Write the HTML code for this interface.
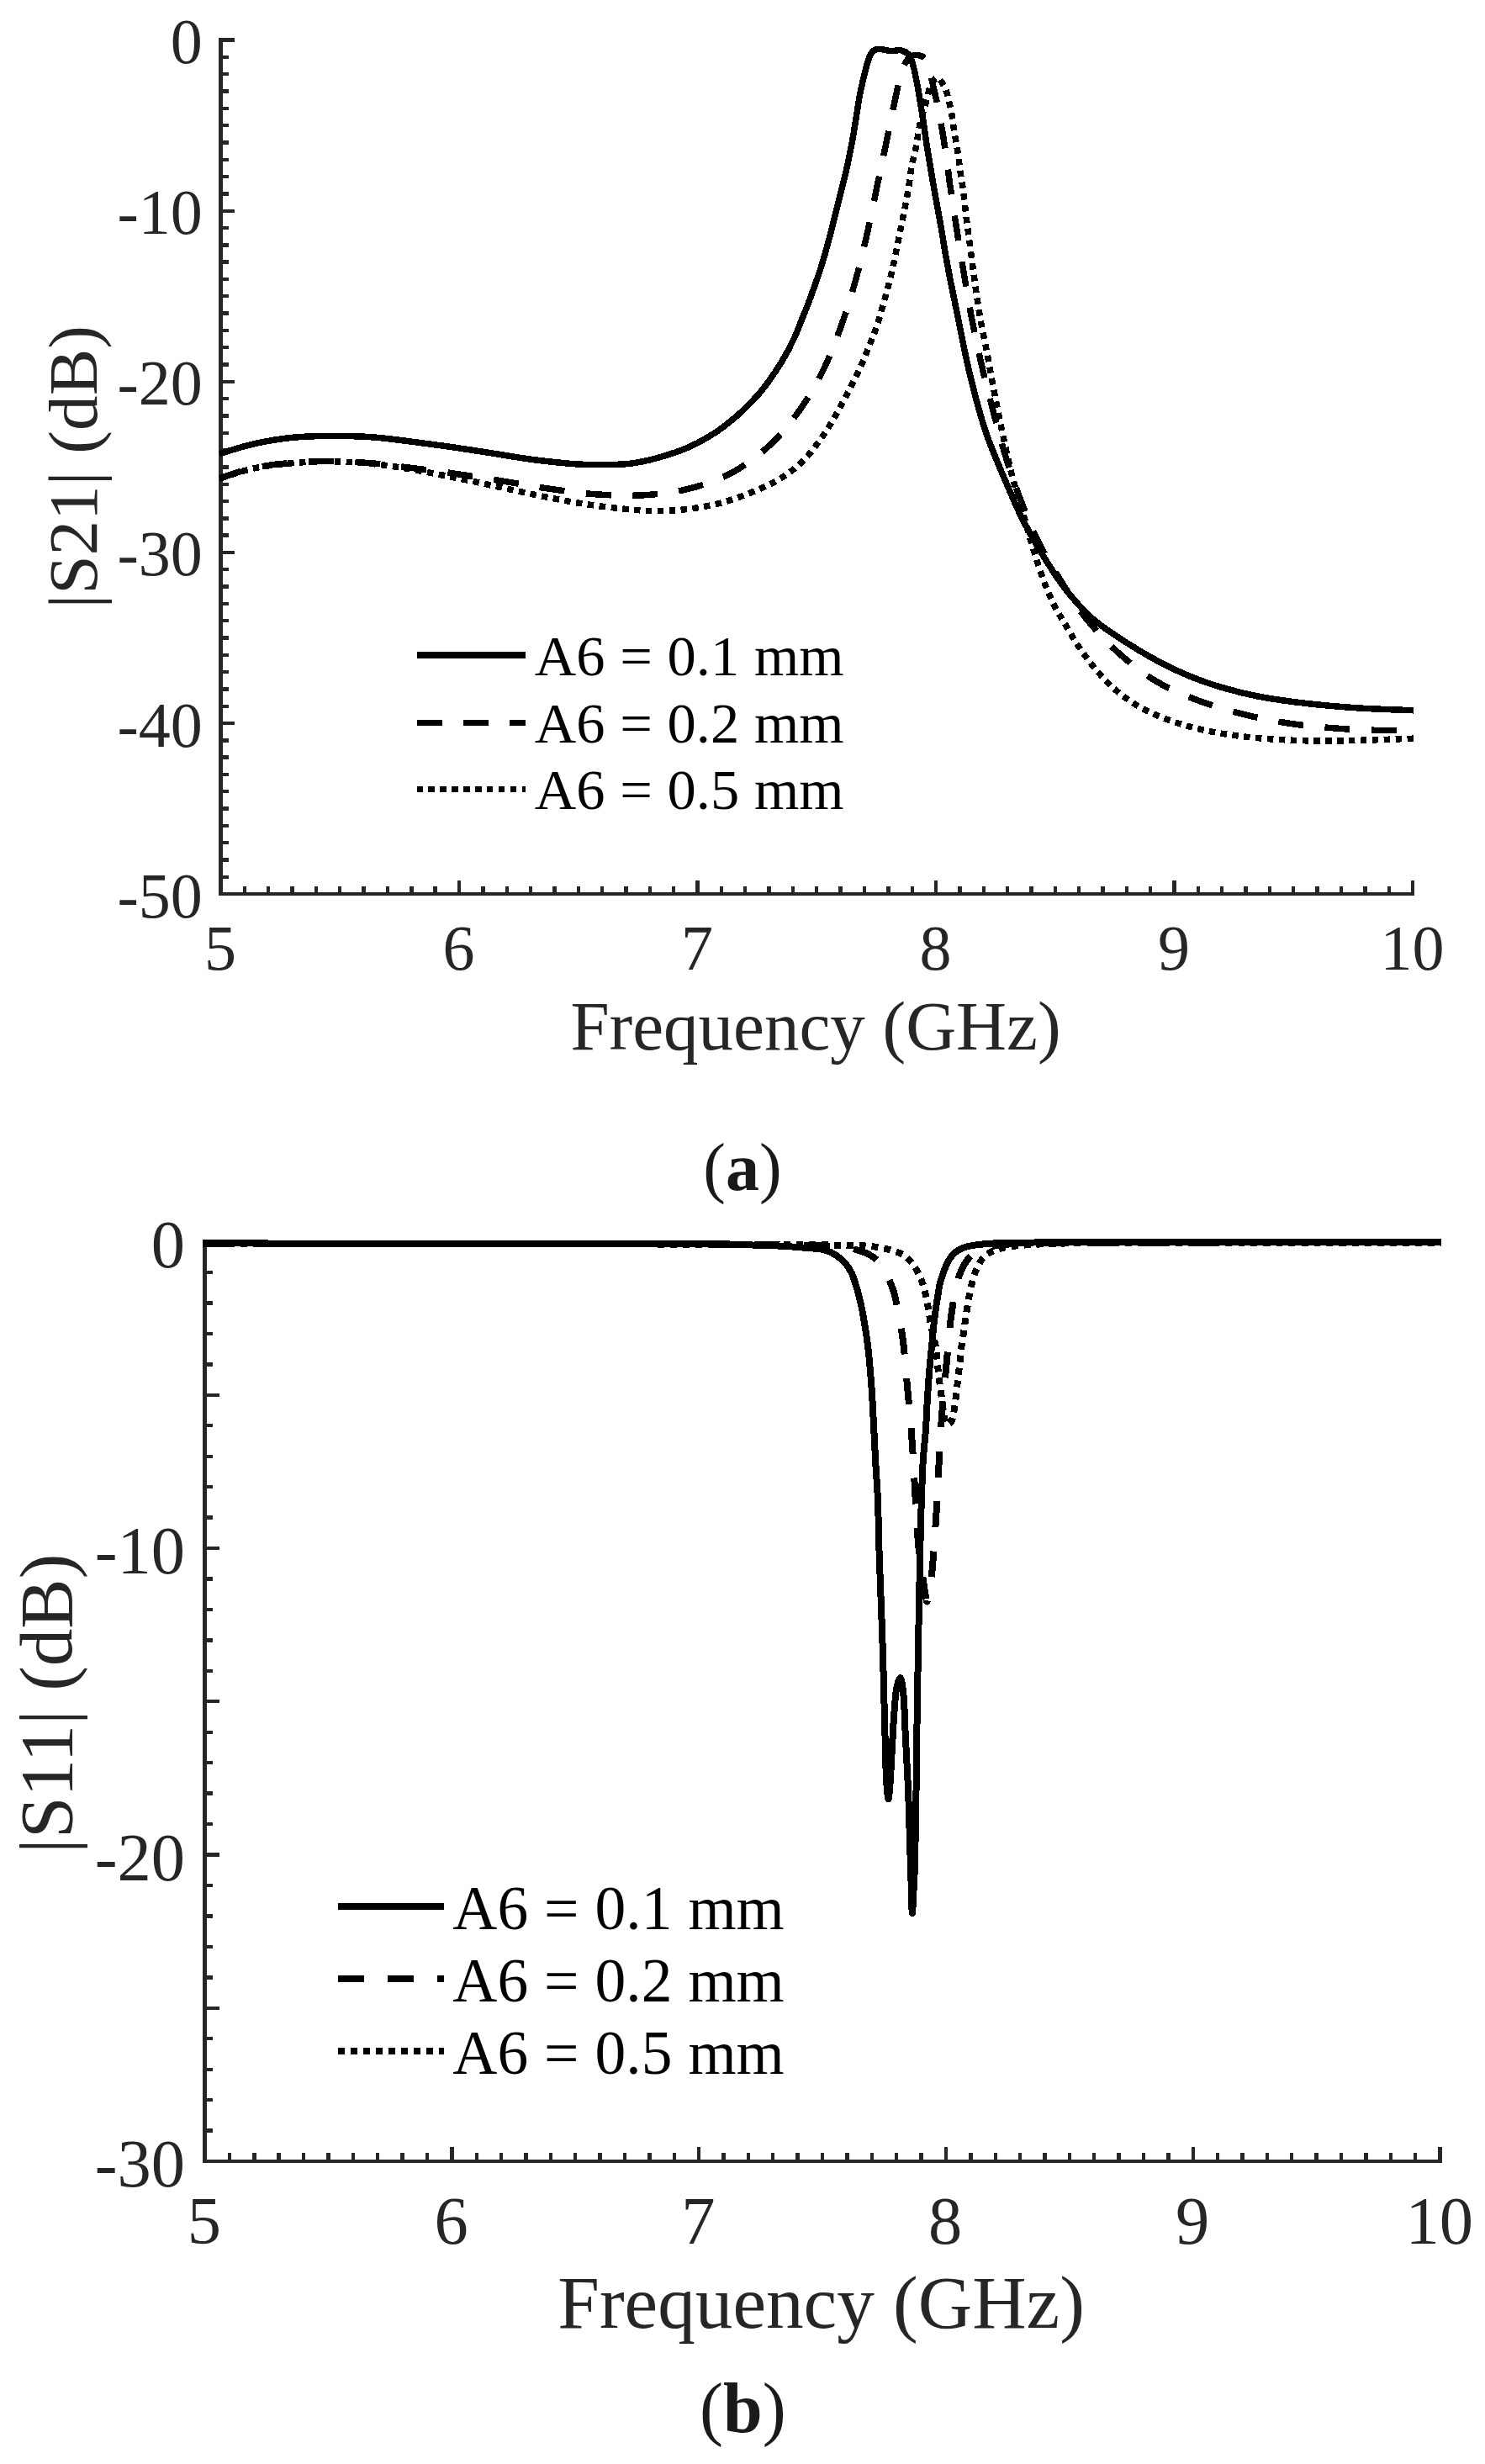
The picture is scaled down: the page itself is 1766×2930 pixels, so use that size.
<!DOCTYPE html>
<html lang="en"><head><meta charset="utf-8"><title>S21 and S11 versus frequency</title>
<style>
html,body{margin:0;padding:0;background:#fff}
svg{display:block}
text{font-family:"Liberation Serif","Times New Roman",serif;fill:#262626}
.ta{font-size:76px}.la{font-size:83px}.ga{font-size:68.5px;fill:#000}
.tb{font-size:80.5px}.lb{font-size:88px}.lby{font-size:89px}.gb{font-size:73.5px;fill:#000}
.cap{font-size:80px;fill:#1a1a1a}
.ax{stroke:#262626;fill:none;shape-rendering:crispEdges}
.cv{stroke:#000;fill:none;stroke-linejoin:round;shape-rendering:crispEdges}
</style></head><body>
<svg width="1766" height="2930" viewBox="0 0 1766 2930">
<rect width="1766" height="2930" fill="#fff"/>
<g id="plot-a">
<path class="ax" stroke-width="5" d="M262.5 45.2V1065"/>
<path class="ax" stroke-width="4" d="M260 1063H1682.2"/>
<path class="ax" stroke-width="4.4" d="M262.5 47.6h16.4M262.5 67.9h9.4M262.5 88.2h9.4M262.5 108.5h9.4M262.5 128.8h9.4M262.5 149.1h9.4M262.5 169.5h9.4M262.5 189.8h9.4M262.5 210.1h9.4M262.5 230.4h9.4M262.5 250.7h16.4M262.5 271.0h9.4M262.5 291.3h9.4M262.5 311.6h9.4M262.5 331.9h9.4M262.5 352.2h9.4M262.5 372.6h9.4M262.5 392.9h9.4M262.5 413.2h9.4M262.5 433.5h9.4M262.5 453.8h16.4M262.5 474.1h9.4M262.5 494.4h9.4M262.5 514.7h9.4M262.5 535.0h9.4M262.5 555.3h9.4M262.5 575.7h9.4M262.5 596.0h9.4M262.5 616.3h9.4M262.5 636.6h9.4M262.5 656.9h16.4M262.5 677.2h9.4M262.5 697.5h9.4M262.5 717.8h9.4M262.5 738.1h9.4M262.5 758.4h9.4M262.5 778.8h9.4M262.5 799.1h9.4M262.5 819.4h9.4M262.5 839.7h9.4M262.5 860.0h16.4M262.5 880.3h9.4M262.5 900.6h9.4M262.5 920.9h9.4M262.5 941.2h9.4M262.5 961.5h9.4M262.5 981.9h9.4M262.5 1002.2h9.4M262.5 1022.5h9.4M262.5 1042.8h9.4M262.5 1063.1h16.4"/>
<path class="ax" stroke-width="4.4" d="M262.5 1063.0v-16.2M290.9 1063.0v-9.2M319.2 1063.0v-9.2M347.6 1063.0v-9.2M375.9 1063.0v-9.2M404.2 1063.0v-9.2M432.6 1063.0v-9.2M460.9 1063.0v-9.2M489.3 1063.0v-9.2M517.6 1063.0v-9.2M546.0 1063.0v-16.2M574.4 1063.0v-9.2M602.7 1063.0v-9.2M631.0 1063.0v-9.2M659.4 1063.0v-9.2M687.8 1063.0v-9.2M716.1 1063.0v-9.2M744.5 1063.0v-9.2M772.8 1063.0v-9.2M801.1 1063.0v-9.2M829.5 1063.0v-16.2M857.9 1063.0v-9.2M886.2 1063.0v-9.2M914.5 1063.0v-9.2M942.9 1063.0v-9.2M971.2 1063.0v-9.2M999.6 1063.0v-9.2M1028.0 1063.0v-9.2M1056.3 1063.0v-9.2M1084.7 1063.0v-9.2M1113.0 1063.0v-16.2M1141.3 1063.0v-9.2M1169.7 1063.0v-9.2M1198.0 1063.0v-9.2M1226.4 1063.0v-9.2M1254.8 1063.0v-9.2M1283.1 1063.0v-9.2M1311.5 1063.0v-9.2M1339.8 1063.0v-9.2M1368.2 1063.0v-9.2M1396.5 1063.0v-16.2M1424.8 1063.0v-9.2M1453.2 1063.0v-9.2M1481.5 1063.0v-9.2M1509.9 1063.0v-9.2M1538.2 1063.0v-9.2M1566.6 1063.0v-9.2M1595.0 1063.0v-9.2M1623.3 1063.0v-9.2M1651.7 1063.0v-9.2M1680.0 1063.0v-16.2"/>
<text class="ta" x="240.8" y="75.1" text-anchor="end">0</text>
<text class="ta" x="240.8" y="278.2" text-anchor="end">-10</text>
<text class="ta" x="240.8" y="481.3" text-anchor="end">-20</text>
<text class="ta" x="240.8" y="684.4" text-anchor="end">-30</text>
<text class="ta" x="240.8" y="887.5" text-anchor="end">-40</text>
<text class="ta" x="240.8" y="1090.6" text-anchor="end">-50</text>
<text class="ta" x="262.0" y="1153.3" text-anchor="middle">5</text>
<text class="ta" x="545.5" y="1153.3" text-anchor="middle">6</text>
<text class="ta" x="829.0" y="1153.3" text-anchor="middle">7</text>
<text class="ta" x="1112.5" y="1153.3" text-anchor="middle">8</text>
<text class="ta" x="1396.0" y="1153.3" text-anchor="middle">9</text>
<text class="ta" x="1679.5" y="1153.3" text-anchor="middle">10</text>
<text class="la" x="970" y="1247.5" text-anchor="middle">Frequency (GHz)</text>
<text class="la" style="font-size:83.3px" transform="translate(115.3 555.3) rotate(-90)" text-anchor="middle">|S21| (dB)</text>
<path class="cv" stroke-width="7.5" d="M261.0 539.6C270.8 536.7 280.8 533.3 290.4 530.8C299.5 528.4 307.8 526.4 317.3 524.7C327.9 522.8 338.8 521.1 351.0 520.0C365.3 518.8 382.3 518.4 398.0 518.4C413.7 518.4 430.2 518.9 445.3 520.0C459.3 521.1 471.5 522.9 485.7 524.7C501.6 526.7 519.4 529.1 536.2 531.5C553.0 533.9 569.9 536.6 586.7 539.2C603.5 541.8 620.3 544.9 637.2 547.0C654.0 549.1 672.7 551.1 687.7 552.0C699.6 552.7 709.4 552.7 720.0 552.6C730.2 552.5 740.0 552.5 750.0 551.2C760.3 549.9 769.9 547.8 780.8 544.8C793.5 541.3 808.0 536.9 821.2 530.8C835.0 524.4 848.6 516.4 861.6 506.6C875.6 496.0 890.4 482.1 902.0 468.9C912.6 456.8 921.4 443.4 929.0 431.2C935.6 420.5 941.2 409.4 945.5 400.0C948.9 392.7 950.9 386.5 953.5 380.0C956.0 373.7 958.1 369.0 960.9 361.6C965.0 350.8 970.9 334.7 975.3 321.2C979.6 307.8 983.3 294.3 986.9 280.8C990.5 267.4 993.6 253.9 997.0 240.4C1000.3 226.9 1004.1 213.0 1007.0 200.0C1009.7 187.9 1012.1 175.7 1014.1 164.7C1015.8 155.1 1017.0 146.7 1018.5 137.7C1020.0 128.7 1021.1 119.7 1022.9 110.8C1024.7 101.8 1027.2 91.5 1029.2 83.9C1030.7 78.2 1031.7 73.2 1033.5 69.0C1034.9 65.7 1036.2 62.3 1038.5 60.5C1040.5 58.9 1043.0 58.5 1045.8 58.3C1049.6 58.1 1054.9 60.5 1059.3 60.7C1063.4 60.9 1067.7 59.0 1071.4 59.8C1074.9 60.6 1078.4 62.3 1080.8 65.0C1083.6 68.2 1084.7 74.0 1086.2 79.0C1087.9 84.6 1088.8 90.0 1090.2 97.3C1092.3 108.1 1094.9 124.2 1097.0 137.7C1099.1 151.2 1100.7 163.8 1103.0 178.1C1105.6 194.3 1109.1 214.4 1111.8 230.0C1114.1 242.8 1116.0 252.4 1118.2 265.0C1120.8 279.7 1123.3 296.4 1126.3 312.8C1129.5 330.2 1133.0 346.9 1137.0 366.7C1141.9 390.9 1147.7 421.7 1153.9 447.3C1159.7 470.9 1165.6 493.7 1172.7 514.7C1179.2 533.9 1186.9 551.2 1194.3 568.6C1201.3 585.2 1208.0 601.5 1215.8 617.0C1223.3 631.9 1231.4 646.0 1240.0 660.0C1248.5 673.9 1257.1 687.8 1267.0 700.5C1276.8 713.0 1287.2 725.0 1299.3 735.6C1311.8 746.6 1326.6 755.8 1341.0 765.0C1355.6 774.3 1371.0 783.3 1386.4 791.0C1401.3 798.5 1415.4 804.8 1431.8 810.6C1450.3 817.1 1472.1 823.0 1492.4 827.3C1512.5 831.6 1532.8 834.0 1553.0 836.4C1573.2 838.8 1592.8 840.4 1613.6 841.8C1635.5 843.3 1658.5 843.8 1681.0 844.8"/>
<path class="cv" stroke-width="7.5" stroke-dasharray="30 25.4" stroke-dashoffset="2.5" d="M261.0 568.8C270.8 565.7 280.8 562.0 290.4 559.4C299.5 557.0 307.8 555.2 317.3 553.7C327.9 552.0 339.8 550.9 351.0 550.0C362.2 549.1 373.5 548.4 384.7 548.3C395.9 548.2 407.2 548.7 418.4 549.3C429.6 549.9 440.8 550.6 452.0 551.7C463.2 552.8 473.3 554.4 485.7 556.0C500.8 557.9 518.0 559.9 536.0 562.5C556.9 565.5 582.6 569.7 603.5 573.0C621.6 575.9 636.6 578.9 654.0 581.3C672.5 583.9 692.3 586.8 711.3 588.0C730.0 589.2 748.9 589.9 767.3 588.7C785.5 587.5 803.7 585.3 821.2 580.7C838.7 576.1 856.5 569.7 872.4 561.0C888.4 552.2 903.5 540.6 916.8 528.1C930.0 515.7 941.4 501.3 951.9 486.4C962.5 471.3 971.7 455.1 980.1 437.9C988.9 419.8 996.6 398.3 1003.0 380.0C1008.6 364.0 1012.8 350.3 1017.2 334.4C1022.0 317.3 1026.4 298.9 1030.6 280.5C1035.0 261.2 1039.2 239.9 1043.1 221.2C1046.6 204.4 1049.8 189.9 1053.2 173.4C1056.9 155.8 1060.6 135.5 1064.4 118.9C1067.6 104.8 1069.8 89.0 1074.1 79.8C1076.8 74.0 1080.0 69.1 1083.5 67.0C1086.0 65.5 1088.9 65.4 1091.6 65.7C1094.3 66.0 1097.6 66.9 1099.7 69.0C1102.2 71.6 1103.1 77.1 1104.4 81.2C1105.7 85.2 1106.6 89.1 1107.7 93.3C1108.9 98.0 1110.0 103.2 1111.1 108.1C1112.2 113.0 1113.4 117.5 1114.5 122.9C1115.8 129.4 1117.2 137.5 1118.5 144.5C1119.7 151.0 1120.8 156.5 1121.9 163.3C1123.2 171.5 1124.6 181.2 1125.9 190.3C1127.2 199.5 1128.0 207.3 1129.5 218.0C1131.6 233.0 1134.8 253.7 1137.6 271.6C1140.4 289.7 1143.4 308.2 1146.5 326.3C1149.5 344.3 1152.4 362.1 1155.9 380.0C1159.4 398.0 1163.2 416.0 1167.3 433.9C1171.5 451.9 1176.1 469.8 1180.8 487.7C1185.5 505.7 1190.2 523.9 1195.6 541.6C1200.9 559.0 1206.6 575.8 1213.1 592.8C1219.7 610.0 1226.3 627.2 1234.7 644.0C1243.3 661.3 1254.3 679.1 1264.3 695.0C1273.5 709.7 1281.6 723.0 1292.4 736.4C1303.9 750.7 1317.7 765.4 1331.8 777.9C1345.6 790.1 1360.1 801.4 1375.8 810.6C1391.5 819.8 1408.7 826.8 1425.8 833.3C1443.0 839.8 1461.0 844.9 1478.8 849.4C1496.4 853.8 1513.8 857.2 1531.8 860.0C1550.2 862.8 1569.3 864.6 1587.9 866.0C1606.2 867.4 1625.8 868.1 1642.4 868.5C1656.4 868.9 1668.1 868.7 1681.0 868.8"/>
<path class="cv" stroke-width="7.5" stroke-dasharray="7.5 6.4" d="M261.0 569.2C270.8 566.1 280.8 562.4 290.4 559.8C299.5 557.4 307.8 555.6 317.3 554.1C327.9 552.4 339.8 551.3 351.0 550.4C362.2 549.5 373.5 548.8 384.7 548.7C395.9 548.6 407.2 549.1 418.4 549.7C429.6 550.3 440.8 551.2 452.0 552.5C463.2 553.8 473.4 555.4 485.7 557.5C500.8 560.0 519.3 563.7 536.0 567.0C552.7 570.3 569.3 573.9 586.0 577.5C602.9 581.1 620.1 585.1 637.0 588.5C653.7 591.9 670.0 595.3 687.0 598.0C704.5 600.8 723.8 603.4 740.4 605.0C754.8 606.4 767.3 607.6 780.8 607.6C794.3 607.6 807.8 606.8 821.2 605.0C834.7 603.2 848.3 600.6 861.6 596.8C875.2 592.9 890.0 587.2 902.0 582.0C912.0 577.7 920.3 574.2 929.0 568.6C938.3 562.7 947.4 555.7 955.9 547.0C965.5 537.2 974.7 524.2 982.8 512.0C990.8 499.9 997.6 487.0 1004.4 474.3C1011.1 461.8 1017.8 448.5 1023.2 436.6C1027.9 426.2 1031.8 416.1 1035.4 407.0C1038.4 399.4 1040.9 393.3 1043.4 385.9C1046.1 377.8 1048.4 369.0 1050.8 360.3C1053.3 351.4 1055.9 342.3 1058.2 333.3C1060.4 324.3 1062.4 315.4 1064.3 306.4C1066.2 297.3 1067.9 287.9 1069.7 278.8C1071.5 269.8 1073.3 261.0 1075.1 251.9C1076.9 242.6 1079.0 232.9 1080.5 223.6C1082.0 214.6 1082.8 204.3 1084.2 197.0C1085.2 191.7 1086.5 188.0 1087.5 183.5C1088.5 179.0 1089.4 174.5 1090.2 170.0C1091.0 165.5 1091.5 161.1 1092.3 156.6C1093.1 152.1 1093.7 148.2 1095.0 143.0C1096.8 135.8 1100.3 124.9 1102.4 117.5C1104.0 111.9 1104.2 107.0 1106.4 102.7C1108.4 98.8 1111.7 92.6 1114.5 92.6C1117.5 92.6 1121.6 100.3 1123.9 104.7C1126.1 108.9 1126.8 113.6 1128.0 118.2C1129.2 122.9 1130.4 127.7 1131.3 132.4C1132.2 136.9 1132.6 141.3 1133.3 145.8C1134.0 150.5 1134.6 155.2 1135.4 160.0C1136.2 164.9 1137.2 170.0 1138.0 174.8C1138.7 179.2 1139.4 183.3 1140.0 187.6C1140.6 191.9 1140.8 196.1 1141.4 200.4C1142.0 204.7 1142.7 208.9 1143.4 213.2C1144.1 217.6 1144.8 221.2 1145.5 226.6C1146.6 235.0 1147.8 247.6 1149.2 259.0C1150.8 271.7 1152.7 285.9 1154.5 299.4C1156.3 312.9 1158.0 326.4 1159.9 339.8C1161.8 353.2 1163.7 366.6 1166.0 380.0C1168.4 393.5 1171.5 407.2 1174.0 420.4C1176.4 433.1 1178.2 444.3 1180.8 458.0C1183.9 474.4 1187.8 494.0 1191.6 512.0C1195.4 530.0 1199.2 548.2 1203.7 565.9C1208.2 583.2 1214.0 601.3 1218.5 617.0C1222.4 630.5 1225.3 642.0 1229.3 654.7C1233.4 668.0 1238.0 682.7 1242.8 695.0C1247.0 705.8 1252.0 716.7 1256.2 724.8C1259.3 730.6 1261.7 733.9 1265.0 739.4C1269.4 746.7 1274.6 756.3 1280.3 765.0C1286.6 774.5 1293.9 784.9 1301.5 794.0C1309.1 803.1 1317.1 812.1 1325.8 819.7C1334.3 827.1 1343.0 833.5 1353.0 839.4C1364.0 845.8 1376.6 851.3 1389.4 856.0C1402.8 861.0 1416.9 864.9 1431.8 868.2C1448.0 871.8 1465.8 874.4 1483.3 876.4C1501.2 878.5 1520.5 879.5 1537.9 880.3C1553.7 881.0 1568.2 881.0 1583.3 881.0C1598.5 881.0 1613.1 880.4 1628.8 880.0C1645.6 879.5 1663.6 878.8 1681.0 878.2"/>
<path class="cv" stroke-width="7.5" d="M495.5 779.2H624.5"/>
<text class="ga" x="635.8" word-spacing="0.6" y="803.0">A6 = 0.1 mm</text>
<path class="cv" stroke-width="7.5" stroke-dasharray="30 25.4" d="M495.5 859.3H624.5"/>
<text class="ga" x="635.8" word-spacing="0.6" y="882.7">A6 = 0.2 mm</text>
<path class="cv" stroke-width="7.5" stroke-dasharray="7.5 6.4" d="M495.5 938.7H624.5"/>
<text class="ga" x="635.8" word-spacing="0.6" y="962.0">A6 = 0.5 mm</text>
<text class="cap" x="883" y="1414.5" text-anchor="middle">(<tspan font-weight="bold">a</tspan>)</text>
</g>
<g id="plot-b">
<path class="ax" stroke-width="5" d="M243.5 1474.2V2571.5"/>
<path class="ax" stroke-width="4" d="M241 2570H1714.9"/>
<path class="ax" stroke-width="4.4" d="M243.5 1476.5h17.4M243.5 1513.0h9.5M243.5 1549.4h9.5M243.5 1585.8h9.5M243.5 1622.3h9.5M243.5 1658.8h17.4M243.5 1695.2h9.5M243.5 1731.7h9.5M243.5 1768.1h9.5M243.5 1804.5h9.5M243.5 1841.0h17.4M243.5 1877.5h9.5M243.5 1913.9h9.5M243.5 1950.3h9.5M243.5 1986.8h9.5M243.5 2023.2h17.4M243.5 2059.7h9.5M243.5 2096.2h9.5M243.5 2132.6h9.5M243.5 2169.1h9.5M243.5 2205.5h17.4M243.5 2241.9h9.5M243.5 2278.4h9.5M243.5 2314.8h9.5M243.5 2351.3h9.5M243.5 2387.8h17.4M243.5 2424.2h9.5M243.5 2460.7h9.5M243.5 2497.1h9.5M243.5 2533.6h9.5M243.5 2570.0h17.4"/>
<path class="ax" stroke-width="4.4" d="M243.5 2570.0v-17.0M272.9 2570.0v-9.9M302.3 2570.0v-9.9M331.6 2570.0v-9.9M361.0 2570.0v-9.9M390.4 2570.0v-9.9M419.8 2570.0v-9.9M449.2 2570.0v-9.9M478.5 2570.0v-9.9M507.9 2570.0v-9.9M537.3 2570.0v-17.0M566.7 2570.0v-9.9M596.1 2570.0v-9.9M625.4 2570.0v-9.9M654.8 2570.0v-9.9M684.2 2570.0v-9.9M713.6 2570.0v-9.9M743.0 2570.0v-9.9M772.3 2570.0v-9.9M801.7 2570.0v-9.9M831.1 2570.0v-17.0M860.5 2570.0v-9.9M889.9 2570.0v-9.9M919.2 2570.0v-9.9M948.6 2570.0v-9.9M978.0 2570.0v-9.9M1007.4 2570.0v-9.9M1036.8 2570.0v-9.9M1066.1 2570.0v-9.9M1095.5 2570.0v-9.9M1124.9 2570.0v-17.0M1154.3 2570.0v-9.9M1183.7 2570.0v-9.9M1213.0 2570.0v-9.9M1242.4 2570.0v-9.9M1271.8 2570.0v-9.9M1301.2 2570.0v-9.9M1330.6 2570.0v-9.9M1359.9 2570.0v-9.9M1389.3 2570.0v-9.9M1418.7 2570.0v-17.0M1448.1 2570.0v-9.9M1477.5 2570.0v-9.9M1506.8 2570.0v-9.9M1536.2 2570.0v-9.9M1565.6 2570.0v-9.9M1595.0 2570.0v-9.9M1624.4 2570.0v-9.9M1653.7 2570.0v-9.9M1683.1 2570.0v-9.9M1712.5 2570.0v-17.0"/>
<text class="tb" x="220" y="1506.8" text-anchor="end">0</text>
<text class="tb" x="220" y="1871.3" text-anchor="end">-10</text>
<text class="tb" x="220" y="2235.8" text-anchor="end">-20</text>
<text class="tb" x="220" y="2600.3" text-anchor="end">-30</text>
<text class="tb" x="242.8" y="2667.6" text-anchor="middle">5</text>
<text class="tb" x="536.6" y="2667.6" text-anchor="middle">6</text>
<text class="tb" x="830.4" y="2667.6" text-anchor="middle">7</text>
<text class="tb" x="1124.2" y="2667.6" text-anchor="middle">8</text>
<text class="tb" x="1418.0" y="2667.6" text-anchor="middle">9</text>
<text class="tb" x="1711.8" y="2667.6" text-anchor="middle">10</text>
<text class="lb" style="font-size:89.2px" x="976.6" y="2768.2" text-anchor="middle">Frequency (GHz)</text>
<text class="lb lby" transform="translate(85 2025.8) rotate(-90)" text-anchor="middle">|S11| (dB)</text>
<path class="cv" stroke-width="8" stroke-dasharray="8 7" d="M241.5 1479.1C361.0 1479.2 485.8 1479.2 600.0 1479.3C704.5 1479.4 831.9 1479.5 900.0 1479.8C935.2 1480.0 956.4 1480.0 980.0 1480.4C998.8 1480.7 1018.2 1480.7 1030.5 1481.6C1037.6 1482.1 1041.9 1482.7 1047.3 1483.7C1052.5 1484.7 1057.7 1485.7 1062.5 1487.4C1067.2 1489.0 1072.1 1490.6 1076.0 1493.4C1079.9 1496.1 1083.1 1500.0 1086.0 1503.9C1089.0 1507.9 1091.5 1512.7 1093.6 1517.3C1095.7 1521.7 1097.3 1526.1 1098.7 1530.8C1100.1 1535.7 1101.0 1540.9 1102.0 1546.0C1103.0 1551.0 1104.0 1556.0 1104.9 1561.1C1105.7 1566.1 1106.2 1571.5 1107.1 1576.3C1107.9 1580.7 1109.0 1584.8 1110.0 1589.0C1111.0 1593.2 1112.2 1597.0 1113.0 1601.5C1113.9 1606.7 1114.2 1612.9 1114.7 1618.4C1115.2 1623.6 1115.5 1628.5 1116.0 1633.5C1116.6 1638.6 1117.3 1643.4 1118.0 1648.7C1118.8 1654.6 1119.7 1661.0 1120.6 1667.2C1121.4 1673.4 1121.8 1680.8 1123.1 1685.7C1124.0 1689.1 1125.0 1693.6 1126.5 1694.1C1127.6 1694.5 1129.3 1693.2 1130.3 1692.0C1131.7 1690.4 1132.4 1687.7 1133.2 1684.8C1134.3 1680.7 1135.0 1674.7 1135.7 1669.7C1136.4 1664.9 1136.8 1660.2 1137.4 1655.4C1138.0 1650.6 1138.5 1645.8 1139.1 1641.0C1139.7 1636.1 1140.2 1631.0 1140.8 1626.0C1141.4 1621.0 1141.9 1615.9 1142.5 1610.8C1143.0 1605.7 1143.4 1600.6 1144.1 1595.6C1144.8 1590.5 1146.0 1585.5 1146.7 1580.5C1147.4 1575.7 1147.7 1571.0 1148.4 1566.2C1149.1 1561.2 1150.1 1556.0 1150.9 1551.0C1151.7 1546.2 1152.4 1541.5 1153.4 1536.7C1154.4 1531.9 1155.4 1527.1 1156.8 1522.4C1158.2 1517.6 1159.7 1512.5 1161.8 1508.0C1163.9 1503.6 1166.2 1498.9 1169.4 1495.5C1172.4 1492.3 1176.0 1489.9 1180.3 1487.9C1185.5 1485.5 1191.4 1484.1 1198.9 1482.8C1209.8 1480.8 1221.8 1480.2 1240.0 1479.3C1275.9 1477.6 1337.8 1478.2 1400.0 1477.9C1487.2 1477.5 1609.3 1477.8 1714.0 1477.7"/>
<path class="cv" stroke-width="8" stroke-dasharray="31 28.4" stroke-dashoffset="-1.5" d="M241.5 1478.9C361.0 1479.0 485.8 1479.1 600.0 1479.2C704.5 1479.3 831.9 1478.9 900.0 1479.7C935.2 1480.1 960.9 1480.5 980.0 1481.5C990.7 1482.1 997.9 1482.6 1005.0 1483.6C1010.3 1484.3 1014.3 1485.0 1018.7 1486.2C1022.8 1487.3 1026.8 1488.7 1030.5 1490.4C1034.1 1492.1 1037.5 1493.7 1040.6 1496.3C1044.0 1499.2 1047.3 1503.3 1049.9 1507.2C1052.6 1511.2 1054.5 1515.5 1056.5 1520.0C1058.7 1524.8 1060.7 1529.2 1062.5 1535.0C1064.8 1542.6 1066.7 1552.6 1068.5 1562.0C1070.5 1572.0 1072.2 1581.3 1073.8 1593.4C1076.0 1609.9 1077.6 1633.7 1079.3 1652.0C1080.8 1668.1 1082.3 1682.6 1083.5 1697.5C1084.6 1711.9 1085.5 1726.0 1086.3 1740.0C1087.1 1753.5 1087.8 1767.1 1088.5 1780.0C1089.2 1792.1 1089.7 1803.8 1090.5 1815.0C1091.2 1825.4 1091.9 1835.2 1093.0 1845.0C1094.1 1854.6 1095.7 1863.8 1097.1 1873.2C1098.5 1882.8 1100.4 1897.6 1101.5 1902.0C1101.8 1903.4 1102.1 1904.6 1102.4 1904.6C1102.8 1904.6 1103.0 1901.6 1103.5 1899.0C1104.5 1893.5 1106.8 1881.4 1107.9 1873.0C1108.9 1865.1 1109.3 1859.2 1110.0 1850.0C1111.1 1836.3 1112.4 1816.7 1113.5 1799.0C1114.7 1779.8 1115.5 1759.4 1116.7 1739.0C1117.9 1717.8 1119.1 1694.7 1120.7 1674.3C1122.1 1655.8 1123.9 1639.7 1125.6 1621.7C1127.4 1602.5 1129.0 1580.3 1131.5 1562.5C1133.6 1547.7 1135.8 1532.7 1139.0 1522.0C1141.2 1514.6 1143.5 1509.2 1146.7 1503.9C1149.6 1499.0 1153.0 1494.3 1157.0 1491.0C1160.8 1487.9 1165.1 1486.2 1170.0 1484.5C1175.8 1482.5 1182.1 1481.5 1190.0 1480.5C1201.0 1479.1 1212.0 1478.8 1230.0 1478.3C1267.0 1477.2 1334.7 1477.7 1400.0 1477.6C1488.7 1477.4 1609.3 1477.5 1714.0 1477.5"/>
<path class="cv" stroke-width="8" d="M241.5 1478.2C261.0 1478.2 280.9 1478.2 300.0 1478.3C318.4 1478.4 329.5 1478.8 354.0 1479.0C406.3 1479.4 517.7 1479.1 600.0 1479.2C683.0 1479.3 789.6 1478.7 850.0 1479.6C884.3 1480.1 910.6 1480.8 930.8 1481.8C943.0 1482.4 951.2 1483.2 960.0 1484.0C967.3 1484.7 974.1 1484.6 980.0 1486.2C985.1 1487.5 989.3 1489.5 993.5 1492.1C997.8 1494.8 1002.0 1498.4 1005.3 1502.2C1008.4 1505.8 1010.6 1509.4 1012.8 1514.0C1015.5 1519.7 1017.6 1527.4 1019.6 1534.2C1021.6 1540.9 1023.1 1547.4 1024.6 1554.4C1026.2 1561.9 1027.5 1570.1 1028.8 1578.0C1030.1 1585.8 1031.2 1593.5 1032.2 1601.5C1033.2 1609.8 1033.9 1618.4 1034.7 1626.8C1035.4 1635.2 1036.1 1643.6 1036.7 1652.0C1037.3 1660.4 1037.7 1669.1 1038.1 1677.3C1038.5 1685.1 1038.9 1691.4 1039.3 1700.0C1039.9 1711.5 1040.6 1726.7 1041.3 1740.0C1042.1 1753.3 1043.1 1765.3 1043.8 1780.0C1044.6 1798.2 1044.7 1819.2 1045.4 1840.9C1046.2 1866.0 1047.5 1896.9 1048.4 1922.0C1049.2 1943.8 1049.8 1961.1 1050.4 1982.9C1051.1 2008.0 1051.8 2039.5 1052.5 2064.0C1053.1 2084.4 1053.3 2106.2 1054.3 2120.0C1054.9 2128.1 1055.8 2139.2 1056.5 2139.2C1057.2 2139.2 1058.0 2127.4 1058.6 2120.0C1059.4 2110.0 1059.9 2097.3 1060.6 2084.4C1061.5 2069.0 1062.4 2048.2 1063.6 2033.7C1064.5 2022.8 1065.0 2012.0 1066.7 2005.0C1067.8 2000.7 1069.6 1994.9 1070.7 1995.0C1072.2 1995.1 1073.3 2005.7 1074.2 2013.4C1075.7 2026.1 1075.9 2046.3 1076.8 2064.0C1077.8 2083.4 1079.0 2104.7 1079.9 2125.0C1080.7 2145.3 1081.3 2166.5 1081.9 2185.9C1082.5 2203.6 1083.0 2220.9 1083.5 2236.6C1084.0 2250.3 1084.3 2275.1 1084.9 2275.1C1085.3 2275.1 1085.9 2258.2 1086.4 2250.0C1086.8 2242.0 1087.2 2236.1 1087.6 2226.4C1088.2 2210.8 1088.6 2185.9 1089.0 2165.6C1089.4 2145.3 1089.5 2125.0 1089.8 2104.7C1090.1 2084.4 1090.3 2064.1 1090.6 2043.8C1090.9 2023.5 1091.3 2003.2 1091.6 1982.9C1092.0 1962.6 1092.3 1942.3 1092.7 1922.0C1093.1 1901.7 1093.5 1881.5 1093.9 1861.2C1094.3 1840.9 1094.7 1820.8 1095.3 1800.3C1096.0 1779.2 1096.7 1754.6 1097.8 1736.3C1098.7 1722.5 1100.1 1711.6 1100.9 1700.0C1101.7 1689.2 1102.0 1678.7 1102.6 1668.9C1103.1 1660.0 1103.6 1652.0 1104.2 1643.6C1104.8 1635.2 1105.5 1626.8 1106.3 1618.4C1107.1 1609.9 1108.0 1601.4 1108.8 1593.0C1109.6 1584.6 1110.3 1576.0 1111.3 1567.8C1112.3 1559.8 1113.5 1551.7 1114.7 1544.3C1115.8 1537.8 1116.6 1531.4 1118.0 1525.8C1119.2 1520.9 1120.6 1516.8 1122.3 1512.3C1124.0 1507.8 1125.6 1502.8 1128.1 1498.8C1130.4 1495.0 1133.2 1491.4 1136.6 1488.7C1140.0 1486.0 1143.6 1484.3 1148.4 1482.8C1155.1 1480.7 1163.5 1479.9 1173.6 1479.0C1188.6 1477.7 1206.1 1477.8 1230.0 1477.5C1271.4 1476.9 1334.7 1477.3 1400.0 1477.3C1488.7 1477.2 1609.3 1477.3 1714.0 1477.3"/>
<path class="cv" stroke-width="8" d="M401.5 2267.3H527.7"/>
<text class="gb" x="538.3" word-spacing="0.6" y="2293.8">A6 = 0.1 mm</text>
<path class="cv" stroke-width="8" stroke-dasharray="31 28.4" d="M401.5 2353.2H527.7"/>
<text class="gb" x="538.3" word-spacing="0.6" y="2379.8">A6 = 0.2 mm</text>
<path class="cv" stroke-width="8" stroke-dasharray="8 7" d="M401.5 2439.2H527.7"/>
<text class="gb" x="538.3" word-spacing="0.6" y="2465.8">A6 = 0.5 mm</text>
<text class="cap" style="font-size:84px" x="883.3" y="2892" text-anchor="middle">(<tspan font-weight="bold">b</tspan>)</text>
</g>
</svg></body></html>
